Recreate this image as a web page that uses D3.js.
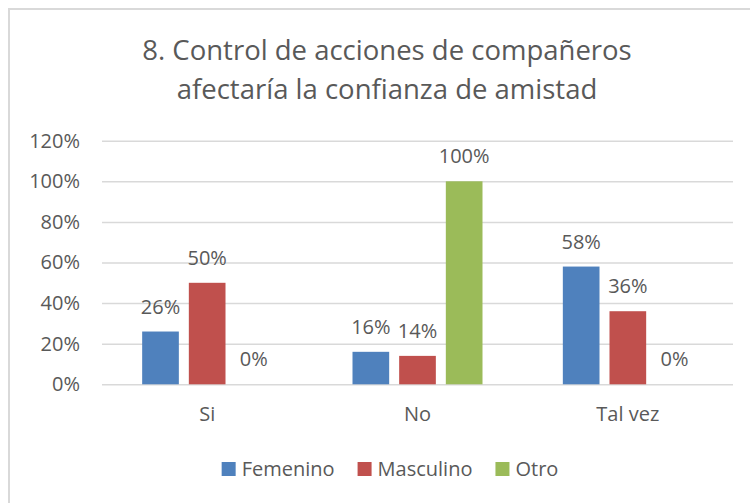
<!DOCTYPE html>
<html lang="es">
<head>
    <meta charset="UTF-8">
    <title>Control de acciones</title>
    <script type="text/javascript" src="https://cdn.jsdelivr.net/npm/d3@7"></script>
    <style type="text/css">
        body { margin: 0; background: #ffffff; }
        svg text { font-family: "Open Sans", sans-serif; fill: #595959; }
    </style>
</head>
<body>
    <script type="text/javascript">
        var categories = ["Si", "No", "Tal vez"];
        var seriesNames = ["Femenino", "Masculino", "Otro"];
        var femenino = [0.26, 0.16, 0.58];
        var masculino = [0.50, 0.14, 0.36];
        var otro = [0, 1.00, 0];
        var yTicks = [0, 0.2, 0.4, 0.6, 0.8, 1.0, 1.2];
        var titleLines = ["8. Control de acciones de compañeros", "afectaría la confianza de amistad"];
        var colors = ["#4F81BD", "#C0504D", "#9BBB59"];

        var width = 750;
        var height = 503;
        var plotLeft = 102;
        var plotRight = 733;
        var plotTop = 140.7;
        var plotBottom = 384.3;

        var seriesValues = [femenino, masculino, otro];
        var dataset = [];
        categories.forEach(function(c, i) {
            seriesNames.forEach(function(s, j) {
                dataset.push({ cat: c, series: s, value: seriesValues[j][i], idx: j });
            });
        });

        var svg = d3.select('body')
            .append('svg')
            .attr('width', width)
            .attr('height', height);

        // chart border
        svg.append('rect')
            .attr('x', 9)
            .attr('y', 9)
            .attr('width', 760)
            .attr('height', 520)
            .attr('fill', 'none')
            .attr('stroke', '#D9D9D9')
            .attr('stroke-width', 2);

        // title
        svg.append('text')
            .attr('text-anchor', 'middle')
            .style('font-size', '27.5px')
            .selectAll('tspan')
            .data(titleLines)
            .enter()
            .append('tspan')
            .attr('x', 387)
            .attr('y', function(d, i) { return 60 + i * 39; })
            .text(function(d) { return d; });

        var scaleX = d3.scaleBand()
            .domain(categories)
            .range([plotLeft, plotRight]);
        var clusterWidth = 130;
        var scaleX1 = d3.scaleBand()
            .domain(seriesNames)
            .range([(scaleX.bandwidth() - clusterWidth) / 2, (scaleX.bandwidth() + clusterWidth) / 2])
            .paddingInner(0.214);
        var scaleY = d3.scaleLinear()
            .domain([0, 1.2])
            .range([plotBottom, plotTop]);

        // gridlines + tick labels
        var axisY = d3.axisLeft(scaleY)
            .tickValues(yTicks)
            .tickSize(-(plotRight - plotLeft))
            .tickFormat(d3.format('.0%'))
            .tickPadding(22);
        var gy = svg.append('g')
            .attr('class', 'axis')
            .attr('transform', `translate(${plotLeft}, 0)`)
            .call(axisY);
        gy.select('.domain').remove();
        gy.selectAll('.tick line')
            .attr('stroke', '#D9D9D9')
            .attr('stroke-width', 1.5);
        gy.selectAll('.tick text')
            .style('font-size', '20px')
            .attr('fill', '#595959')
            .attr('font-family', '"Open Sans", sans-serif');

        // bars
        svg.append('g')
            .selectAll('rect')
            .data(dataset)
            .enter()
            .append('rect')
            .attr('x', function(d) { return scaleX(d.cat) + scaleX1(d.series); })
            .attr('y', function(d) { return scaleY(d.value); })
            .attr('width', scaleX1.bandwidth())
            .attr('height', function(d) { return plotBottom - scaleY(d.value); })
            .attr('fill', function(d) { return colors[d.idx]; });

        // data labels
        svg.append('g')
            .selectAll('text')
            .data(dataset)
            .enter()
            .append('text')
            .attr('text-anchor', 'middle')
            .style('font-size', '20px')
            .attr('x', function(d) { return scaleX(d.cat) + scaleX1(d.series) + scaleX1.bandwidth() / 2; })
            .attr('y', function(d) { return scaleY(d.value) - 18; })
            .text(function(d) { return d3.format('.0%')(d.value); });

        // category labels
        var axisX = d3.axisBottom(scaleX)
            .tickSize(0)
            .tickPadding(0);
        var gx = svg.append('g')
            .attr('transform', `translate(0, ${plotBottom})`)
            .call(axisX);
        gx.select('.domain').remove();
        gx.selectAll('.tick text')
            .attr('dy', null)
            .attr('y', 37)
            .style('font-size', '20px')
            .attr('fill', '#595959')
            .attr('font-family', '"Open Sans", sans-serif');

        // legend
        var legend = svg.append('g');
        var items = legend.selectAll('g')
            .data(seriesNames)
            .enter()
            .append('g');
        items.append('rect')
            .attr('width', 14)
            .attr('height', 14)
            .attr('y', 462)
            .attr('fill', function(d, i) { return colors[i]; });
        items.append('text')
            .attr('x', 20)
            .attr('y', 476)
            .style('font-size', '20px')
            .text(function(d) { return d; });
        var offset = 0;
        var offsets = [];
        items.each(function() {
            offsets.push(offset);
            var w = d3.select(this).select('text').node().getComputedTextLength();
            offset += 20 + w + 23;
        });
        var total = offset - 23;
        var startX = 390 - total / 2;
        items.attr('transform', function(d, i) { return `translate(${startX + offsets[i]}, 0)`; });
    </script>
</body>
</html>
